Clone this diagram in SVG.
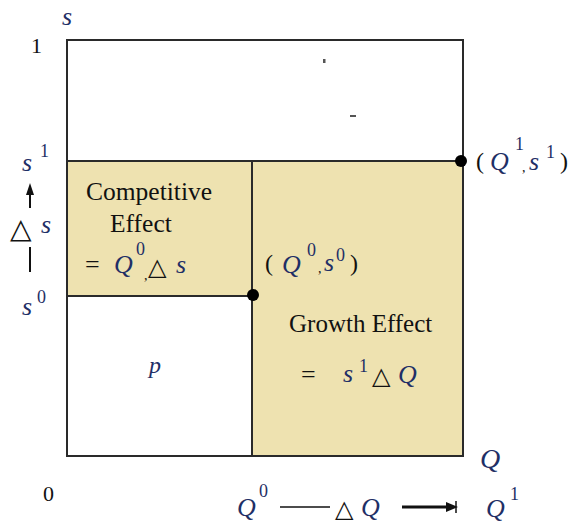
<svg xmlns="http://www.w3.org/2000/svg" width="579" height="524" viewBox="0 0 579 524">
<style>
.t{font-family:'Liberation Serif',serif;fill:#111}
.m{font-family:'Liberation Serif',serif;font-style:italic;fill:#1f2f66}
.sup{font-family:'Liberation Serif',serif;fill:#1f2f66;font-size:18px}
.tri{font-family:'DejaVu Sans',sans-serif;fill:#111}
.ln{stroke:#2a2a2a;stroke-width:2;fill:none}
.fill{fill:#eee2b0}
</style>
<rect width="579" height="524" fill="#fff"/>
<g id="regions">
<rect class="fill" x="67" y="161" width="185" height="135"/>
<rect class="fill" x="252" y="161" width="211" height="295"/>
</g>
<g id="frame">
<rect class="ln" x="67" y="40" width="396" height="416"/>
<line class="ln" x1="67" y1="161" x2="463" y2="161"/>
<line class="ln" x1="67" y1="296" x2="252" y2="296"/>
<line class="ln" x1="252" y1="161" x2="252" y2="456"/>
<rect x="323" y="59" width="2.5" height="4" fill="#555"/>
<rect x="350" y="115" width="6" height="2" fill="#555"/>
</g>
<g id="point1">
<circle cx="461" cy="161" r="6" fill="#000"/>
<text class="t" x="476" y="169" font-size="24">(</text>
<text class="m" x="490" y="170" font-size="26">Q</text>
<text class="sup" x="515" y="150">1</text>
<text class="t" x="522" y="172" font-size="14">,</text>
<text class="m" x="529" y="170" font-size="26">s</text>
<text class="sup" x="546" y="158">1</text>
<text class="t" x="560" y="169" font-size="24">)</text>
</g>
<g id="point0">
<circle cx="253" cy="295" r="6" fill="#000"/>
<text class="t" x="265" y="271" font-size="24">(</text>
<text class="m" x="282" y="273" font-size="26">Q</text>
<text class="sup" x="307" y="256">0</text>
<text class="t" x="318" y="273" font-size="14">,</text>
<text class="m" x="324" y="271" font-size="26">s</text>
<text class="sup" x="336" y="261">0</text>
<text class="t" x="350" y="271" font-size="24">)</text>
</g>
<g id="competitive">
<text x="86" y="200" font-size="25.5" font-family="Liberation Serif" fill="#111">Competitive</text>
<text x="110" y="232" font-size="25.5" font-family="Liberation Serif" fill="#111">Effect</text>
<text class="t" x="85" y="273" font-size="26">=</text>
<text class="m" x="114" y="273" font-size="26">Q</text>
<text class="sup" x="136" y="255">0</text>
<text class="t" x="144" y="280" font-size="14">,</text>
<text class="tri" x="148" y="275" font-size="24">△</text>
<text class="m" x="176" y="273" font-size="26">s</text>
</g>
<g id="growth">
<text x="289" y="332" font-size="25" font-family="Liberation Serif" fill="#111">Growth Effect</text>
<text class="t" x="301" y="383" font-size="26">=</text>
<text class="m" x="343" y="382" font-size="26">s</text>
<text class="sup" x="359" y="372">1</text>
<text class="tri" x="372" y="384" font-size="24">△</text>
<text class="m" x="398" y="383" font-size="26">Q</text>
</g>
<g id="pregion">
<text class="m" x="149" y="373" font-size="24">p</text>
</g>
<g id="yaxis">
<text class="m" x="62" y="25" font-size="26">s</text>
<text class="t" x="31" y="53" font-size="22">1</text>
<text class="m" x="22" y="171" font-size="26">s</text>
<text class="sup" x="40" y="157">1</text>
<line x1="30" y1="192" x2="30" y2="208" stroke="#111" stroke-width="2"/>
<polygon points="30,183 26,195 34,195" fill="#111"/>
<text class="tri" x="10" y="238" font-size="28">△</text>
<text class="m" x="41" y="233" font-size="26">s</text>
<line x1="30" y1="247" x2="30" y2="272" stroke="#111" stroke-width="2"/>
<text class="m" x="22" y="315" font-size="26">s</text>
<text class="sup" x="37" y="303">0</text>
</g>
<g id="xaxis">
<text class="m" x="480" y="468" font-size="28">Q</text>
<text class="t" x="43" y="501" font-size="22">0</text>
<text class="m" x="237" y="516" font-size="26">Q</text>
<text class="sup" x="259" y="497">0</text>
<line x1="280" y1="507" x2="330" y2="507" stroke="#111" stroke-width="1.5"/>
<text class="tri" x="335" y="517" font-size="24">△</text>
<text class="m" x="361" y="516" font-size="26">Q</text>
<line x1="402" y1="507" x2="448" y2="507" stroke="#111" stroke-width="3"/>
<polygon points="458,507 446,502 446,512" fill="#111"/>
<line x1="456" y1="501" x2="456" y2="513" stroke="#111" stroke-width="1.5"/>
<text class="m" x="486" y="517" font-size="26">Q</text>
<text class="sup" x="510" y="500">1</text>
</g>
</svg>
